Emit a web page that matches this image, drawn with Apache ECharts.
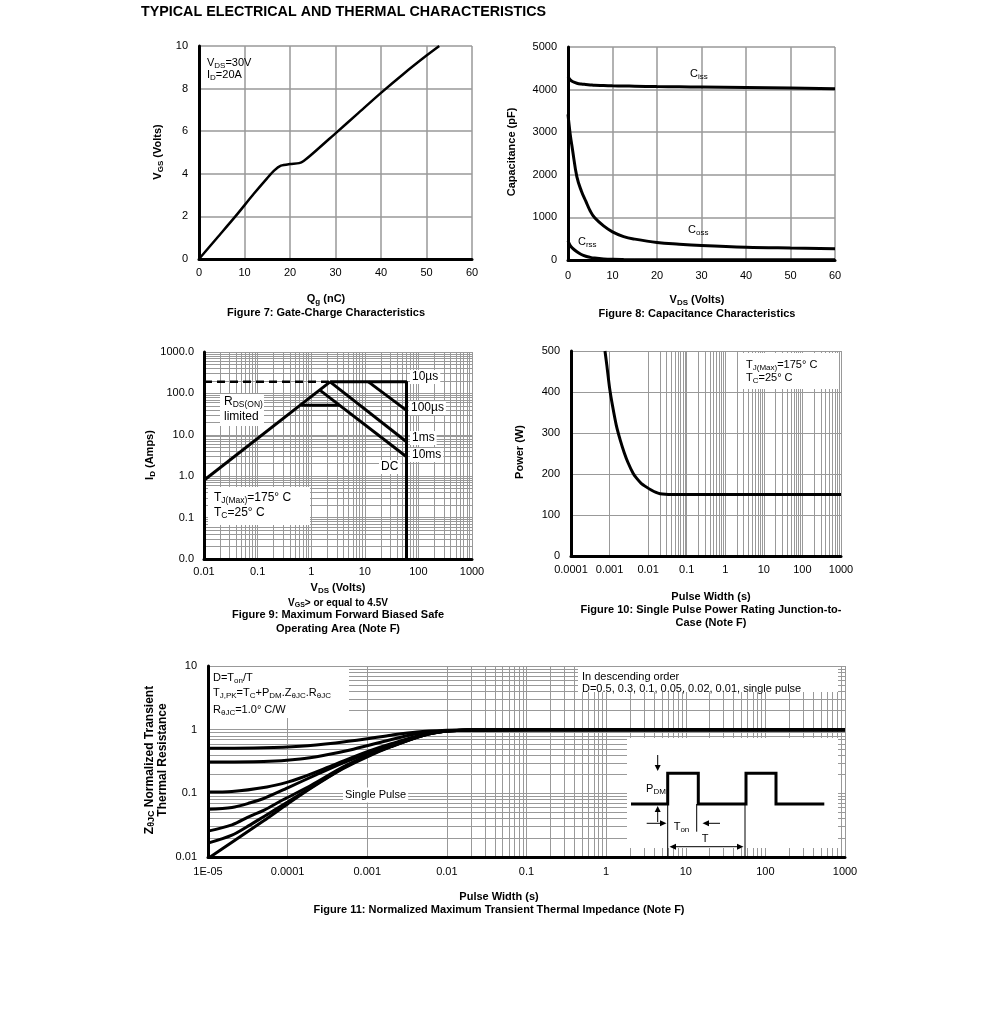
<!DOCTYPE html>
<html><head><meta charset="utf-8">
<script src="https://cdn.jsdelivr.net/npm/echarts@6/dist/echarts.min.js"></script>
<style>html,body{margin:0;padding:0;background:#fff}#c{width:991px;height:1016px}</style>
</head><body><div id="c"></div><script>
// ---------- DATA ----------
// Fig 7: gate charge
const gateChargeQg  = [0, 4, 8, 12, 15, 16.5, 18, 20, 22, 23, 25, 30, 35, 40, 45, 50, 52.8];
const gateChargeVgs = [0, 1, 2, 3.05, 3.8, 4.15, 4.38, 4.46, 4.5, 4.6, 4.95, 5.9, 6.85, 7.8, 8.7, 9.55, 10];
// Fig 8: capacitance
const capVds = [0, 0.5, 1, 2, 3, 4, 5, 6, 8, 10, 12.5, 15, 20, 25, 30, 40, 50, 60];
const ciss   = [4300, 4230, 4190, 4150, 4130, 4120, 4110, 4100, 4095, 4090, 4085, 4080, 4070, 4065, 4060, 4050, 4035, 4020];
const coss   = [3420, 2950, 2600, 1950, 1620, 1380, 1150, 990, 800, 660, 550, 490, 410, 370, 340, 300, 280, 265];
const crss   = [450, 340, 280, 195, 130, 88, 62, 45, 25, 15, 10, 8, 6, 5, 4, 4, 3, 3];
// Fig 9: safe operating area
const soaRdsLimit = [[0.01, 0.8], [2.25, 190]];
const soaCurrentLimitDashed = [[0.01, 190], [2.25, 190]];
const soa10us  = [[2.25, 190], [60, 190], [60, 0.01]];
const soa100us = [[11.7, 190], [60, 39]];
const soa1ms   = [[2.25, 190], [60, 6.8]];
const soa10ms  = [[1.45, 120], [60, 2.95]];
const soaDC    = [[0.65, 52], [3.35, 52]];
// Fig 10: single pulse power
const spPulse = [0.00076, 0.00085, 0.001, 0.0012, 0.0015, 0.0019, 0.0024, 0.003, 0.0041, 0.005, 0.0065, 0.0091, 0.012, 0.016, 0.0204, 0.028, 0.04, 0.1, 1, 10, 100, 1000];
const spPower = [500, 465, 410, 365, 318, 282, 252, 228, 201, 190, 178, 168, 161, 155, 152, 150.5, 150, 150, 150, 150, 150, 150];
// Fig 11: transient thermal impedance
const zD05 = [[1e-5,0.51],[5e-5,0.52],[1.44e-4,0.55],[4e-4,0.62],[1e-3,0.72],[2e-3,0.82],[4.2e-3,0.92],[1e-2,0.98],[2e-2,1.0],[0.1,1.0],[1,1.0],[10,1.0],[100,1.0],[1000,1.0]];
const zD03 = [[1e-5,0.31],[5e-5,0.315],[1.44e-4,0.345],[3e-4,0.4],[6.1e-4,0.48],[1.6e-3,0.65],[4.2e-3,0.86],[1e-2,0.96],[2e-2,0.99],[0.1,1.0],[1,1.0],[10,1.0],[100,1.0],[1000,1.0]];
const zD01 = [[1e-5,0.105],[2e-5,0.107],[5.5e-5,0.126],[1e-4,0.15],[1.44e-4,0.174],[3.8e-4,0.28],[1e-3,0.45],[2e-3,0.6],[5e-3,0.83],[1e-2,0.95],[2e-2,0.99],[0.1,1.0],[1000,1.0]];
const zD005 = [[1e-5,0.056],[2e-5,0.06],[3.4e-5,0.071],[5e-5,0.083],[8.9e-5,0.114],[1e-4,0.122],[2.3e-4,0.196],[5e-4,0.3],[1e-3,0.42],[2e-3,0.57],[5e-3,0.82],[1e-2,0.95],[2e-2,0.99],[0.1,1.0],[1000,1.0]];
const zD002 = [[1e-5,0.0255],[2e-5,0.032],[3.4e-5,0.044],[5e-5,0.054],[8.9e-5,0.08],[1e-4,0.086],[2e-4,0.135],[5e-4,0.26],[1e-3,0.39],[2e-3,0.55],[5e-3,0.81],[1e-2,0.95],[2e-2,0.99],[0.1,1.0],[1000,1.0]];
const zD001 = [[1e-5,0.0165],[2e-5,0.022],[3.4e-5,0.032],[5e-5,0.043],[1e-4,0.073],[2e-4,0.125],[5e-4,0.25],[1e-3,0.385],[2e-3,0.545],[5e-3,0.81],[1e-2,0.95],[2e-2,0.99],[0.1,1.0],[1000,1.0]];
const zSingle = [[1e-5,0.0095],[2e-5,0.017],[5e-5,0.037],[1e-4,0.068],[2e-4,0.122],[5e-4,0.245],[1e-3,0.375],[2e-3,0.54],[5e-3,0.81],[1e-2,0.95],[2e-2,0.99],[0.1,1.0],[1000,1.0]];
// Tick labels
const fig9XLabels  = ['0.01','0.1','1','10','100','1000'];
const fig9YLabels  = ['0.0','0.1','1.0','10.0','100.0','1000.0'];
const fig10XLabels = ['0.0001','0.001','0.01','0.1','1','10','100','1000'];
const fig11XLabels = ['1E-05','0.0001','0.001','0.01','0.1','1','10','100','1000'];
const fig11YLabels = ['0.01','0.1','1','10'];

// ---------- HELPERS ----------
const FONT = '"Liberation Sans", Arial, Helvetica, sans-serif';
const GRIDC = '#999';
function zip(a, b) { return a.map((v, i) => [v, b[i]]); }
function logFmt(labels, minExp) { return v => { const s = labels[Math.round(Math.log10(v)) - minExp]; return s === undefined ? '' : s; }; }
function plainFmt(v) { return String(v); }
function minorVals(lo, hi) { const a = []; for (let e = lo; e < hi; e++) for (let m = 2; m <= 9; m++) a.push(m * Math.pow(10, e)); return a; }

const labelStyle = { color: '#000', fontSize: 11, fontFamily: FONT, formatter: plainFmt };
function axisBase(grid, extra) {
  return Object.assign({
    gridIndex: grid, z: 3,
    axisLine: { show: true, onZero: false, lineStyle: { color: '#000', width: 3 } },
    axisTick: { show: false },
    axisLabel: Object.assign({ margin: 8 }, labelStyle),
    splitLine: { show: true, lineStyle: { color: GRIDC, width: 1 } }
  }, extra);
}
function lineS(grid, data, extra) {
  return Object.assign({
    type: 'line', xAxisIndex: grid, yAxisIndex: grid, data, showSymbol: false, symbol: 'none',
    lineStyle: { color: '#000', width: 3 }, z: 5, animation: false, silent: true, clip: true
  }, extra || {});
}
function gridSeries(grid, xs, ys) {
  return {
    type: 'line', xAxisIndex: grid, yAxisIndex: grid, data: [], z: 1, silent: true, animation: false,
    markLine: {
      z: 1, silent: true, symbol: ['none', 'none'], label: { show: false }, animation: false,
      emphasis: { disabled: true },
      lineStyle: { color: GRIDC, width: 1, type: 'solid' },
      data: xs.map(v => ({ xAxis: v })).concat(ys.map(v => ({ yAxis: v })))
    }
  };
}

const RICH = {
  n:  { fontSize: 11, fontFamily: FONT, fill: '#000' },
  s:  { fontSize: 8, fontFamily: FONT, fill: '#000', padding: [5, 0, 0, 0] },
  m:  { fontSize: 12, fontFamily: FONT, fill: '#000' },
  ms: { fontSize: 8.5, fontFamily: FONT, fill: '#000', padding: [5, 0, 0, 0] },
  b:  { fontSize: 11, fontFamily: FONT, fill: '#000', fontWeight: 'bold' },
  bs: { fontSize: 8, fontFamily: FONT, fill: '#000', fontWeight: 'bold', padding: [5, 0, 0, 0] },
  c:  { fontSize: 10, fontFamily: FONT, fill: '#000', fontWeight: 'bold' },
  cs: { fontSize: 7, fontFamily: FONT, fill: '#000', fontWeight: 'bold', padding: [4, 0, 0, 0] },
  h:  { fontSize: 12, fontFamily: FONT, fill: '#000', fontWeight: 'bold', lineHeight: 13 },
  hs: { fontSize: 9, fontFamily: FONT, fill: '#000', fontWeight: 'bold', padding: [5, 0, 0, 0], lineHeight: 13 }
};
function T(x, y, text, opt, elOpt) {
  return Object.assign({
    type: 'text', x, y, z: 10, silent: true,
    style: Object.assign({ text, fill: '#000', fontSize: 11, fontFamily: FONT, align: 'left', verticalAlign: 'middle', rich: RICH }, opt || {})
  }, elOpt || {});
}
function C(x, y, text, opt) { return T(x, y, text, Object.assign({ align: 'center', fontWeight: 'bold' }, opt || {})); }
function R(x, y, w, h) { return { type: 'rect', z: 4, silent: true, shape: { x, y, width: w, height: h }, style: { fill: '#fff' } }; }
function PL(points, w) { return { type: 'polyline', z: 10, silent: true, shape: { points }, style: { stroke: '#000', lineWidth: w, fill: null } }; }
function PG(points) { return { type: 'polygon', z: 10, silent: true, shape: { points }, style: { fill: '#000' } }; }
const ROT = Math.PI / 2;

// ---------- OPTION ----------
const option = {
  backgroundColor: '#fff',
  animation: false,
  grid: [
    { left: 199, top: 46, width: 273, height: 213 },
    { left: 568, top: 47, width: 267, height: 213 },
    { left: 204, top: 352, width: 268, height: 207 },
    { left: 571, top: 351, width: 270, height: 205 },
    { left: 208, top: 666, width: 637, height: 191 }
  ],
  xAxis: [
    axisBase(0, { type: 'value', min: 0, max: 60, interval: 10, splitLine: { show: true, lineStyle: { color: GRIDC, width: 1.5 } } }),
    axisBase(1, { type: 'value', min: 0, max: 60, interval: 10, axisLabel: Object.assign({}, labelStyle, { margin: 10 }), splitLine: { show: true, lineStyle: { color: GRIDC, width: 1.5 } } }),
    axisBase(2, { type: 'log', min: 0.01, max: 1000, splitNumber: 5, axisLabel: Object.assign({}, labelStyle, { margin: 7, formatter: logFmt(fig9XLabels, -2) }) }),
    axisBase(3, { type: 'log', min: 0.0001, max: 1000, splitNumber: 7, axisLabel: Object.assign({}, labelStyle, { margin: 8, formatter: logFmt(fig10XLabels, -4) }) }),
    axisBase(4, { type: 'log', min: 1e-5, max: 1000, splitNumber: 8, axisLabel: Object.assign({}, labelStyle, { margin: 9, formatter: logFmt(fig11XLabels, -5) }) })
  ],
  yAxis: [
    axisBase(0, { type: 'value', min: 0, max: 10, interval: 2, axisLabel: Object.assign({}, labelStyle, { margin: 11 }), splitLine: { show: true, lineStyle: { color: GRIDC, width: 1.5 } } }),
    axisBase(1, { type: 'value', min: 0, max: 5000, interval: 1000, axisLabel: Object.assign({}, labelStyle, { margin: 11 }), splitLine: { show: true, lineStyle: { color: GRIDC, width: 1.5 } } }),
    axisBase(2, { type: 'log', min: 0.01, max: 1000, splitNumber: 5, axisLabel: Object.assign({}, labelStyle, { margin: 10, formatter: logFmt(fig9YLabels, -2) }) }),
    axisBase(3, { type: 'value', min: 0, max: 500, interval: 100, axisLabel: Object.assign({}, labelStyle, { margin: 11 }) }),
    axisBase(4, { type: 'log', min: 0.01, max: 10, splitNumber: 3, axisLabel: Object.assign({}, labelStyle, { margin: 11, formatter: logFmt(fig11YLabels, -2) }) })
  ],
  series: [
    gridSeries(2, minorVals(-2, 3), minorVals(-2, 3)),
    gridSeries(3, minorVals(-4, 3), []),
    gridSeries(4, minorVals(-5, 3), minorVals(-2, 1)),
    lineS(0, zip(gateChargeQg, gateChargeVgs), { smooth: 0.25, lineStyle: { color: '#000', width: 2.5 } }),
    lineS(1, zip(capVds, ciss), { smooth: 0.4 }),
    lineS(1, zip(capVds, coss), { smooth: 0.4 }),
    lineS(1, zip(capVds, crss), { smooth: 0.4 }),
    lineS(2, soaCurrentLimitDashed, { lineStyle: { color: '#000', width: 2.5, type: [8, 5] } }),
    lineS(2, soaRdsLimit),
    lineS(2, soa10us),
    lineS(2, soa100us),
    lineS(2, soa1ms),
    lineS(2, soa10ms),
    lineS(2, soaDC),
    lineS(3, zip(spPulse, spPower), { smooth: 0.2 }),
    lineS(4, zD05, { smooth: 0.3 }),
    lineS(4, zD03, { smooth: 0.3 }),
    lineS(4, zD01, { smooth: 0.3 }),
    lineS(4, zD005, { smooth: 0.3 }),
    lineS(4, zD002, { smooth: 0.3 }),
    lineS(4, zD001, { smooth: 0.3 }),
    lineS(4, zSingle, { smooth: 0.3 })
  ],
  graphic: [
    // title
    T(141, 12, 'TYPICAL ELECTRICAL AND THERMAL CHARACTERISTICS', { fontSize: 14.3, fontWeight: 'bold' }),
    // Fig 7
    T(158, 152, '{b|V}{bs|GS}{b| (Volts)}', { align: 'center' }, { rotation: ROT }),
    T(207, 63, '{n|V}{s|DS}{n|=30V}'),
    T(207, 75, '{n|I}{s|D}{n|=20A}'),
    C(326, 299, '{b|Q}{bs|g}{b| (nC)}'),
    C(326, 313, 'Figure 7: Gate-Charge Characteristics'),
    // Fig 8
    T(512, 152, 'Capacitance (pF)', { align: 'center', fontWeight: 'bold' }, { rotation: ROT }),
    T(690, 74, '{n|C}{s|iss}'),
    T(688, 230, '{n|C}{s|oss}'),
    T(578, 242, '{n|C}{s|rss}'),
    C(697, 300, '{b|V}{bs|DS}{b| (Volts)}'),
    C(697, 314, 'Figure 8: Capacitance Characteristics'),
    // Fig 9
    T(150, 455, '{b|I}{bs|D}{b| (Amps)}', { align: 'center' }, { rotation: ROT }),
    R(220, 394, 44, 32),
    T(224, 402, '{m|R}{ms|DS(ON)}'),
    T(224, 417, 'limited', { fontSize: 12 }),
    R(208, 487, 102, 38),
    T(214, 498, '{m|T}{ms|J(Max)}{m|=175° C}'),
    T(214, 513, '{m|T}{ms|C}{m|=25° C}'),
    T(410, 377, '10µs', { fontSize: 12, backgroundColor: '#fff', padding: [1, 2] }),
    T(409, 408, '100µs', { fontSize: 12, backgroundColor: '#fff', padding: [1, 2] }),
    T(410, 438, '1ms', { fontSize: 12, backgroundColor: '#fff', padding: [1, 2] }),
    T(410, 455, '10ms', { fontSize: 12, backgroundColor: '#fff', padding: [1, 2] }),
    T(379, 467, 'DC', { fontSize: 12, backgroundColor: '#fff', padding: [1, 2] }),
    C(338, 588, '{b|V}{bs|DS}{b| (Volts)}'),
    C(338, 603, '{c|V}{cs|GS}{c|> or equal to 4.5V}'),
    C(338, 615, 'Figure 9: Maximum Forward Biased Safe'),
    C(338, 629, 'Operating Area (Note F)'),
    // Fig 10
    T(520, 452, 'Power (W)', { align: 'center', fontWeight: 'bold' }, { rotation: ROT }),
    R(742, 353, 97, 36),
    T(746, 365, '{n|T}{s|J(Max)}{n|=175° C}'),
    T(746, 378, '{n|T}{s|C}{n|=25° C}'),
    C(711, 597, 'Pulse Width (s)'),
    C(711, 610, 'Figure 10: Single Pulse Power Rating Junction-to-'),
    C(711, 623, 'Case (Note F)'),
    // Fig 11
    T(156, 760, '{h|Z}{hs|θJC}{h| Normalized Transient}\n{h|Thermal Resistance}', { align: 'center' }, { rotation: ROT }),
    R(210, 667, 139, 51),
    T(213, 678, '{n|D=T}{s|on}{n|/T}'),
    T(213, 693, '{n|T}{s|J,PK}{n|=T}{s|C}{n|+P}{s|DM}{n|.Z}{s|θJC}{n|.R}{s|θJC}'),
    T(213, 710, '{n|R}{s|θJC}{n|=1.0° C/W}'),
    R(578, 667, 260, 25),
    T(582, 677, 'In descending order'),
    T(582, 689, 'D=0.5, 0.3, 0.1, 0.05, 0.02, 0.01, single pulse'),
    T(343, 795, 'Single Pulse', { backgroundColor: '#fff', padding: [2, 2] }),
    R(627, 738, 211, 110),
    PL([[631,804],[667.7,804],[667.7,773.3],[698.3,773.3],[698.3,804],[746,804],[746,773.3],[776,773.3],[776,804],[824.3,804]], 3),
    PL([[657.7,755],[657.7,766]], 1), PG([[654.7,765],[660.7,765],[657.7,771]]),
    PL([[657.7,822],[657.7,811]], 1), PG([[654.7,812],[660.7,812],[657.7,806]]),
    T(656, 789, '{n|P}{s|DM}', { align: 'center' }),
    PL([[646.7,823.3],[661,823.3]], 1), PG([[660,820.3],[660,826.3],[666.5,823.3]]),
    PL([[720,823.3],[708,823.3]], 1), PG([[709,820.3],[709,826.3],[702.5,823.3]]),
    T(681.5, 827, '{n|T}{s|on}', { align: 'center' }),
    PL([[667.7,804],[667.7,857]], 1),
    PL([[696.7,804],[696.7,831.7]], 1),
    PL([[745,804],[745,857]], 1),
    PL([[675,846.7],[738,846.7]], 1), PG([[676,843.7],[676,849.7],[669.5,846.7]]), PG([[737,843.7],[737,849.7],[743.5,846.7]]),
    T(705, 839, 'T', { align: 'center' }),
    C(499, 897, 'Pulse Width (s)'),
    C(499, 910, 'Figure 11: Normalized Maximum Transient Thermal Impedance (Note F)')
  ]
};
const chart = echarts.init(document.getElementById('c'), null, { renderer: 'canvas' });
chart.setOption(option);
</script></body></html>
